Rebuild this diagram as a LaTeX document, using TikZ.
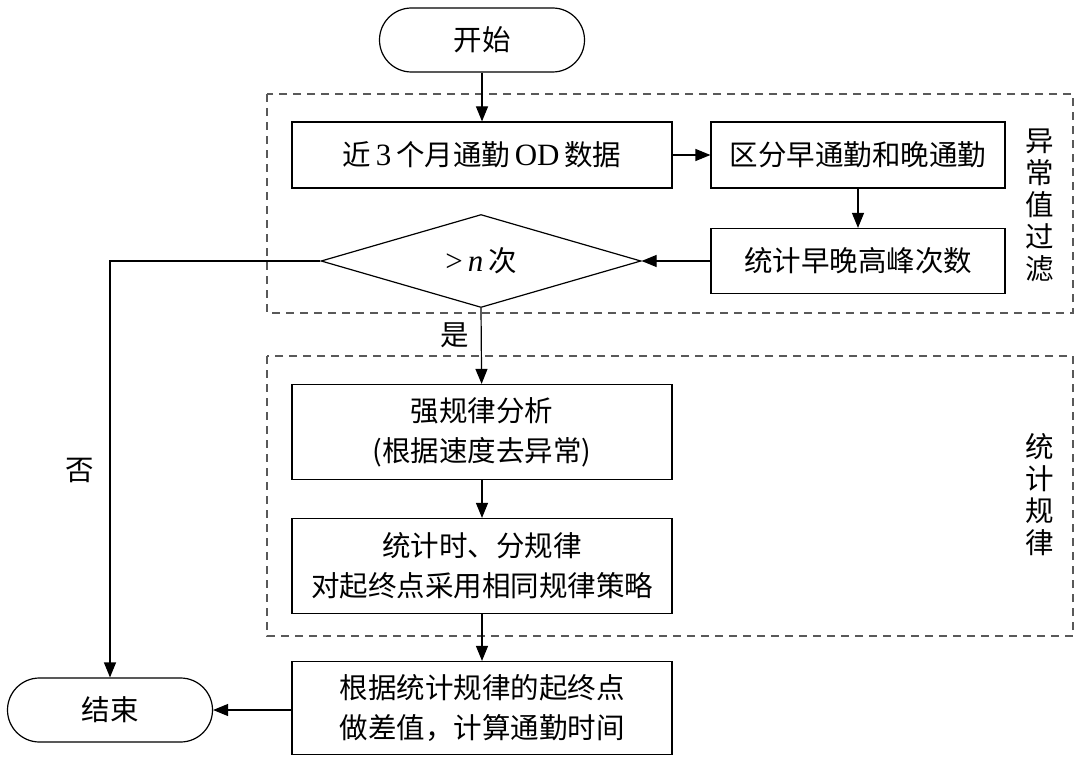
\documentclass[tikz,border=0pt]{standalone}
\usepackage{fontspec}
\setmainfont{Noto Sans CJK SC}
\newfontfamily\tnr{Liberation Serif}
\usetikzlibrary{shapes.geometric,arrows.meta}
\begin{document}
\begin{tikzpicture}[x=1pt,y=-1pt,
  every node/.style={font=\fontsize{28.5}{40}\selectfont},
  box/.style={draw, line width=1.2pt, minimum width=380pt, inner sep=0pt, align=center},
  term/.style={draw, line width=1.2pt, rounded corners=32pt, minimum width=205pt, minimum height=64pt, inner sep=0pt},
  grp/.style={draw=black!65, dash pattern=on 8pt off 6pt, line width=1.2pt},
  arr/.style={line width=1.2pt, -{Triangle[length=15pt,width=12pt]}},
  vlab/.style={align=center, font=\fontsize{28.5}{32}\selectfont, inner sep=0pt}]
\path[use as bounding box, fill=white] (0,0) rectangle (1080,768);
% groups
\draw[grp] (267,94) rectangle (1073,313);
\draw[grp] (267,356) rectangle (1073,636);
% nodes
\node[term] (start) at (482,40) {开始};
\node[box, minimum height=66pt] (b1) at (482,155) {近\,{\tnr\fontsize{31}{40}\selectfont 3}\,个月通勤\,{\tnr\fontsize{31}{40}\selectfont OD}\,数据};
\node[box, minimum width=294pt, minimum height=66pt] (b2) at (858,155) {区分早通勤和晚通勤};
\node[box, minimum width=294pt, minimum height=65pt] (b3) at (858,261) {统计早晚高峰次数};
\node[draw, line width=1.2pt, diamond, aspect=3.4, minimum width=320pt, minimum height=93pt, inner sep=0pt] (dec) at (481,261) {{\tnr\fontsize{31}{40}\selectfont >\,\itshape n}\,次};
\node[box, minimum height=95pt] (b4) at (482,432) {强规律分析\\(根据速度去异常)};
\node[box, minimum height=95pt] (b5) at (482,566) {统计时、分规律\\对起终点采用相同规律策略};
\node[box, minimum height=93pt] (b6) at (482,708) {根据统计规律的起终点\\做差值，计算通勤时间};
\node[term] (end) at (110,710) {结束};
\node[vlab] (l1) at (1040,205) {异\\常\\值\\过\\滤};
\node[vlab] (l2) at (1040,495) {统\\计\\规\\律};
\node (yes) at (455,335) {是};
\node (no) at (80,470) {否};
\coordinate (corner) at (110,261);
% connectors
\draw[arr] (start) -- (b1);
\draw[arr] (b1) -- (b2);
\draw[arr] (b2) -- (b3);
\draw[arr] (b3) -- (dec);
\draw[arr] (dec.south) -- (b4);
\draw[arr] (b4) -- (b5);
\draw[arr] (b5) -- (b6);
\draw[arr] (dec.west) -- (corner) -- (end.north);
\draw[arr] (b6.west |- end) -- (end.east);
\end{tikzpicture}
\end{document}
